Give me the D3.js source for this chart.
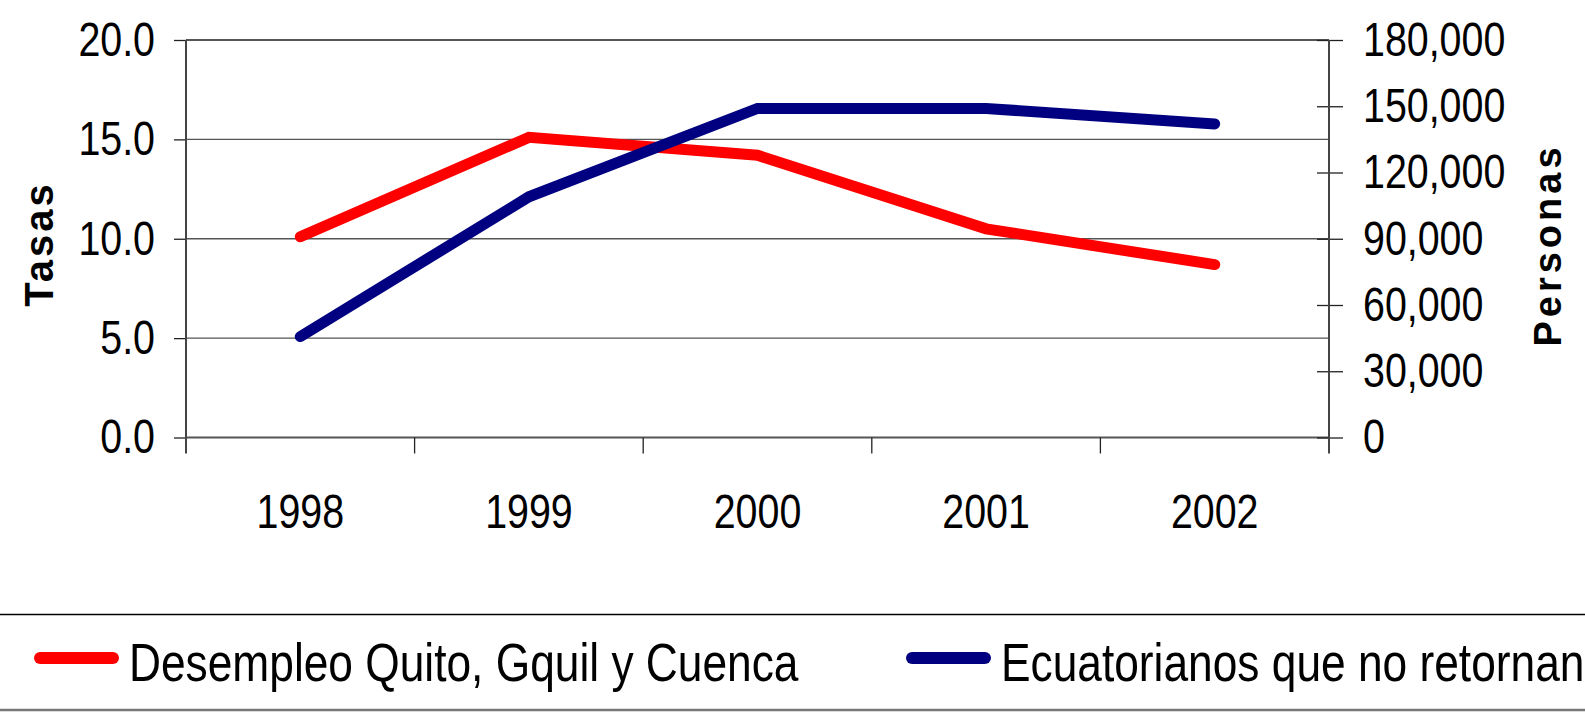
<!DOCTYPE html>
<html>
<head>
<meta charset="utf-8">
<script src="https://cdn.jsdelivr.net/npm/d3@7"></script>
<style>
  html, body { margin:0; padding:0; background:#fff; }
  svg { display:block; }
  .narrow { font-family:"Liberation Sans",Arial,sans-serif; }
  .bold   { font-family:"Liberation Sans",Arial,sans-serif; font-weight:bold; }
</style>
</head>
<body>
<script>
// ---- datos -----------------------------------------------------------------
const years      = ['1998','1999','2000','2001','2002'];
const desempleo  = [10.1, 15.1, 14.2, 10.5, 8.7];          // tasas (eje izq.)
const emigrantes = [45700, 109000, 149000, 149000, 142000]; // personas (eje der.)
const leftTicks  = [0, 5, 10, 15, 20];
const rightTicks = [0, 30000, 60000, 90000, 120000, 150000, 180000];
const seriesNames = ['Desempleo Quito, Gquil y Cuenca', 'Ecuatorianos que no retornan'];
const seriesColors = ['#ff0000', '#000080'];

// ---- layout ----------------------------------------------------------------
const W = 1585, H = 715;
const P = {left:186, right:1329, top:40, bottom:437.5};
const NARROW = 0.82;   // no hay Arial Narrow: se comprime el texto

const svg = d3.select('body').append('svg').attr('width', W).attr('height', H);

// comprime horizontalmente los textos (simula fuente "narrow")
function condense(sel){
  sel.each(function(){
    const w = this.getComputedTextLength();
    d3.select(this).attr('textLength', w * NARROW).attr('lengthAdjust', 'spacingAndGlyphs');
  });
}

const x  = d3.scaleBand().domain(years).range([P.left, P.right]).padding(0);
const yL = d3.scaleLinear().domain([0, 20]).range([P.bottom, P.top]);
const yR = d3.scaleLinear().domain([0, 180000]).range([P.bottom, P.top]);

/* rejilla */
svg.append('g').selectAll('line').data(leftTicks).join('line')
  .attr('x1', P.left).attr('x2', P.right)
  .attr('y1', d => yL(d)).attr('y2', d => yL(d))
  .attr('stroke', '#555').attr('stroke-width', d => d === 20 || d === 0 ? 2 : 1.3);

/* eje izquierdo */
const axL = svg.append('g').attr('transform', `translate(${P.left},0)`)
  .call(d3.axisLeft(yL).tickValues(leftTicks).tickFormat(d3.format('.1f'))
          .tickSizeInner(12).tickSizeOuter(0).tickPadding(19));
axL.select('.domain').remove();
axL.selectAll('line').attr('stroke', '#222').attr('stroke-width', 1.3);
axL.selectAll('text').attr('class', 'narrow').attr('font-size', 48).attr('fill', '#000')
  .attr('font-family', null).call(condense);

svg.append('line').attr('x1', P.left).attr('x2', P.left)
  .attr('y1', P.top).attr('y2', P.bottom + 16).attr('stroke', '#444').attr('stroke-width', 2);

/* eje derecho */
const axR = svg.append('g').attr('transform', `translate(${P.right},0)`)
  .call(d3.axisRight(yR).tickValues(rightTicks).tickFormat(d3.format(','))
          .tickSizeInner(14).tickSizeOuter(0).tickPadding(20));
axR.select('.domain').remove();
axR.selectAll('.tick line').attr('x1', -12).attr('stroke', '#222').attr('stroke-width', 1.3);
axR.selectAll('text').attr('class', 'narrow').attr('font-size', 48).attr('fill', '#000')
  .attr('font-family', null).call(condense);

svg.append('line').attr('x1', P.right).attr('x2', P.right)
  .attr('y1', P.top).attr('y2', P.bottom + 16).attr('stroke', '#444').attr('stroke-width', 2);

/* eje x */
svg.append('g').selectAll('line').data(years.slice(1)).join('line')
  .attr('x1', d => x(d)).attr('x2', d => x(d))
  .attr('y1', P.bottom).attr('y2', P.bottom + 16)
  .attr('stroke', '#222').attr('stroke-width', 1.3);

const axX = svg.append('g').attr('transform', `translate(0,${P.bottom})`)
  .call(d3.axisBottom(x).tickSize(0));
axX.select('.domain').remove();
axX.selectAll('text').attr('class', 'narrow').attr('font-size', 48).attr('fill', '#000')
  .attr('font-family', null).attr('y', 90.5).attr('dy', 0).call(condense);

/* títulos de ejes */
svg.append('text').attr('class', 'bold').attr('font-size', 40).attr('letter-spacing', 3)
  .attr('text-anchor', 'middle')
  .attr('transform', `translate(53,244) rotate(-90)`).text('Tasas');
svg.append('text').attr('class', 'bold').attr('font-size', 38).attr('letter-spacing', 4)
  .attr('text-anchor', 'middle')
  .attr('transform', `translate(1561,245) rotate(-90)`).text('Personas');

/* líneas */
const lineL = d3.line().x((d, i) => x(years[i]) + x.bandwidth() / 2).y(d => yL(d));
const lineR = d3.line().x((d, i) => x(years[i]) + x.bandwidth() / 2).y(d => yR(d));

svg.append('path').attr('d', lineL(desempleo))
  .attr('fill', 'none').attr('stroke', seriesColors[0]).attr('stroke-width', 11)
  .attr('stroke-linecap', 'round').attr('stroke-linejoin', 'miter');
svg.append('path').attr('d', lineR(emigrantes))
  .attr('fill', 'none').attr('stroke', seriesColors[1]).attr('stroke-width', 11)
  .attr('stroke-linecap', 'round').attr('stroke-linejoin', 'miter');

/* leyenda */
svg.append('line').attr('x1', 0).attr('x2', W).attr('y1', 614.5).attr('y2', 614.5)
  .attr('stroke', '#000').attr('stroke-width', 1.5);
svg.append('line').attr('x1', 0).attr('x2', W).attr('y1', 710).attr('y2', 710)
  .attr('stroke', '#777').attr('stroke-width', 2.5);

const legX = [40, 912];
const leg = svg.append('g').selectAll('g').data(seriesNames).join('g')
  .attr('transform', (d, i) => `translate(${legX[i]},658)`);
leg.append('line').attr('x1', 0).attr('x2', 73).attr('y1', 0).attr('y2', 0)
  .attr('stroke', (d, i) => seriesColors[i]).attr('stroke-width', 12)
  .attr('stroke-linecap', 'round');
leg.append('text').attr('class', 'narrow').attr('font-size', 54)
  .attr('x', 89).attr('y', 23).text(d => d).call(condense);
</script>
</body>
</html>
